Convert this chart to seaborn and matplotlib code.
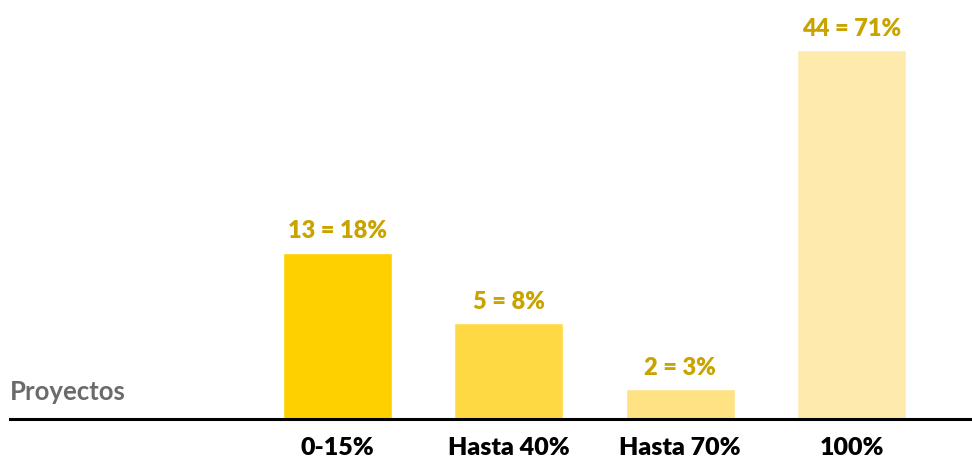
import matplotlib
matplotlib.use("Agg")
import matplotlib.pyplot as plt
import seaborn as sns
import pandas as pd

# datos
categorias = ["0-15%", "Hasta 40%", "Hasta 70%", "100%"]
proyectos = [13, 5, 2, 44]
porcentajes = [18, 8, 3, 71]
# altura visual de cada barra (unidades arbitrarias, estimadas de la imagen)
alturas = [166, 96, 30, 368]
colores = ["#FFD000", "#FFD944", "#FFE283", "#FFEAAE"]

df = pd.DataFrame({"categoria": categorias, "altura": alturas})

sns.set_theme(style="white")
plt.rcParams["font.family"] = ["Lato", "DejaVu Sans"]

fig = plt.figure(figsize=(9.72, 4.64), dpi=100)
ax = fig.add_axes([10 / 972, 44 / 464, 962 / 972, 420 / 464])

sns.barplot(data=df, x="categoria", y="altura", hue="categoria",
            palette=colores, width=0.636, saturation=1, legend=False, ax=ax)

ax.set_xlim(-1.912, 3.703)
ax.set_ylim(0, 419)

for i, (n, p, h) in enumerate(zip(proyectos, porcentajes, alturas)):
    ax.annotate(f"{n} = {p}%", (i, h), xytext=(0, 16), textcoords="offset points",
                ha="center", va="center", fontsize=17, fontweight="heavy",
                color="#C9A300")

for s in ["top", "right", "left"]:
    ax.spines[s].set_visible(False)
ax.spines["bottom"].set_linewidth(2.2)
ax.spines["bottom"].set_color("black")

ax.set_yticks([])
ax.set_xlabel("")
ax.set_ylabel("")
ax.tick_params(axis="x", length=0, pad=12, labelsize=18)
for lbl in ax.get_xticklabels():
    lbl.set_fontweight("heavy")
    lbl.set_color("black")

ax.text(0.0, 28, "Proyectos", transform=ax.get_yaxis_transform(),
        ha="left", va="center", fontsize=18.5, fontweight="bold", color="#6B6B6B")

fig.savefig("out.png", dpi=100)
plt.close(fig)
